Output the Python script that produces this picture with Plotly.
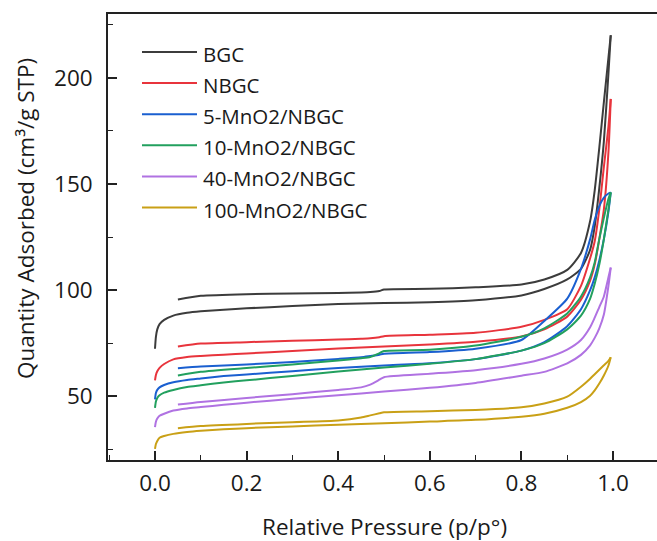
import plotly.graph_objects as go

# Relative pressure grids (adsorption: increasing, desorption: decreasing)
P_ADS = [0.0, 0.002, 0.005, 0.01, 0.02, 0.04, 0.07, 0.1, 0.15, 0.2, 0.3, 0.4, 0.5,
         0.6, 0.7, 0.8, 0.85, 0.9, 0.93, 0.95, 0.96, 0.97, 0.98, 0.99, 0.995]
P_DES = [0.995, 0.99, 0.98, 0.97, 0.96, 0.95, 0.93, 0.9, 0.85, 0.8, 0.7, 0.6, 0.5,
         0.49, 0.47, 0.45, 0.4, 0.3, 0.2, 0.1, 0.05]

SAMPLES = ["BGC", "NBGC", "5-MnO2/NBGC", "10-MnO2/NBGC", "40-MnO2/NBGC", "100-MnO2/NBGC"]

BGC_ADS = [72.4, 78, 81.5, 84, 86, 88, 89.3, 90, 90.8, 91.4, 92.5, 93.5, 93.9,
           94.3, 95.2, 97.5, 100.5, 105, 110, 119, 130, 148, 170, 202, 220]
BGC_DES = [220, 209.5, 188.5, 167, 147, 132.5, 117.5, 109.5, 105, 102.6, 101.3, 100.6, 100.3,
           99.6, 99.1, 98.9, 98.6, 98.4, 98.1, 97.3, 95.6]

NBGC_ADS = [57.5, 60, 61.8, 63.4, 65.2, 67.4, 68.5, 69, 69.6, 70.2, 71.3, 72.5, 73.4,
            74.4, 75.7, 78.2, 81.5, 87.5, 95.5, 104.5, 112, 124, 138, 165, 190]
NBGC_DES = [190, 177, 158, 138, 123, 115, 102, 91, 86, 82.7, 79.9, 79, 78.3,
            77.8, 77.3, 77.1, 76.7, 76.1, 75.5, 74.8, 73.4]

MN5_ADS = [48.5, 51.5, 53, 54.2, 55.3, 56.6, 57.7, 58.4, 59.5, 60.3, 61.8, 63.3, 64.5,
           65.6, 67.5, 71.5, 75.5, 83, 91, 100, 106, 114, 124, 137, 146]
MN5_DES = [146, 145.5, 143.5, 139.5, 133, 124, 110, 96, 85.5, 76.5, 72.4, 70.8, 70,
           69.6, 69, 68.4, 67.6, 66.2, 65, 64, 63.2]

MN10_ADS = [44.5, 47.5, 49.2, 50.5, 51.7, 53, 54.4, 55.2, 56.5, 57.5, 59.6, 61.7, 63.5,
            65.3, 67.5, 71.5, 75, 81.5, 88, 96, 103, 112, 124, 138, 146]
MN10_DES = [146, 143, 134, 124, 113, 106, 97, 89, 82, 78, 73.9, 71.9, 71.3,
            70.3, 68.5, 67.9, 66.8, 65, 63.3, 61.5, 59.8]

MN40_ADS = [35.5, 38, 39.5, 40.8, 41.8, 43.3, 44.3, 44.9, 46, 47, 48.8, 50.5, 52.2,
            54, 56.3, 59.7, 61.5, 65.5, 69.5, 74, 77.5, 82, 88.5, 102, 110.6]
MN40_DES = [110.6, 106, 97, 92, 87, 82.5, 76.5, 72, 67.8, 65.3, 62.3, 60.6, 59,
            57.8, 55.5, 54.2, 53, 51, 49.2, 47.3, 46.1]

MN100_ADS = [25.2, 27.5, 29, 30.5, 31.3, 32.3, 33.2, 33.8, 34.5, 35, 35.8, 36.6, 37.3,
             38.1, 38.9, 40.4, 41.8, 44.6, 47.3, 50.3, 52.8, 56, 59.8, 64.5, 68.4]
MN100_DES = [68.4, 66.7, 64.6, 62.5, 60.4, 58.3, 54.5, 49.8, 46.6, 44.8, 43.6, 43, 42.5,
             42, 41, 40, 38.6, 37.8, 37, 36, 35]

ADS = [BGC_ADS, NBGC_ADS, MN5_ADS, MN10_ADS, MN40_ADS, MN100_ADS]
DES = [BGC_DES, NBGC_DES, MN5_DES, MN10_DES, MN40_DES, MN100_DES]
COLORS = ["#3c3c3c", "#e8343c", "#1a5fd0", "#22a05e", "#b072e2", "#c9a016"]

X_TICKS = [0.0, 0.2, 0.4, 0.6, 0.8, 1.0]
Y_TICKS = [50, 100, 150, 200]

FONT = "Open Sans"
TXT = "#1a1a1a"

fig = go.Figure()
for name, a, d, c in zip(SAMPLES, ADS, DES, COLORS):
    for xs, ys in ((P_ADS, a), (P_DES, d)):
        fig.add_trace(go.Scatter(
            x=xs, y=ys, mode="lines", name=name,
            line=dict(color=c, width=2, shape="spline", smoothing=0.6),
            showlegend=False))

# manual legend (long line samples like the original)
L, T, B, W = 108, 14, 81, 657
H = 541
pw, ph = W - L, H - T - B
def px_x(px):
    return (px - L) / pw
def px_y(py):
    return (H - B - py) / ph

for i, (name, c) in enumerate(zip(SAMPLES, COLORS)):
    yl = 52 + 31.1 * i
    fig.add_shape(type="line", xref="paper", yref="paper",
                  x0=px_x(142), x1=px_x(197), y0=px_y(yl), y1=px_y(yl),
                  line=dict(color=c, width=2))
    fig.add_annotation(xref="paper", yref="paper", x=px_x(201), y=px_y(yl + 2),
                       text=name, showarrow=False, xanchor="left", yanchor="middle",
                       font=dict(family=FONT, size=20.5, color=TXT))

fig.add_annotation(xref="paper", yref="paper", x=px_x(384), y=px_y(526),
                   text="Relative Pressure (p/p°)", showarrow=False,
                   xanchor="center", yanchor="middle",
                   font=dict(family=FONT, size=22.5, color=TXT))
fig.add_annotation(xref="paper", yref="paper", x=px_x(25), y=px_y(219),
                   text="Quantity Adsorbed (cm³/g STP)", showarrow=False, textangle=-90,
                   xanchor="center", yanchor="middle",
                   font=dict(family=FONT, size=22.5, color=TXT))

axis_common = dict(showgrid=False, zeroline=False, showline=True, linecolor="#222",
                   linewidth=1.6, ticks="inside", tickcolor="#222", tickwidth=1.6,
                   ticklen=9, tickfont=dict(family=FONT, size=22.5, color=TXT))
fig.update_xaxes(range=[-0.1026, 1.096], tickvals=X_TICKS,
                 ticktext=[f"{v:.1f}" for v in X_TICKS], mirror=True,
                 minor=dict(ticks="inside", dtick=0.1, tick0=0, ticklen=5,
                            tickwidth=1.4, tickcolor="#222"),
                 ticklabelstandoff=2, **axis_common)
fig.update_yaxes(range=[20, 230], tickvals=Y_TICKS, mirror=False,
                 minor=dict(ticks="inside", dtick=25, tick0=0, ticklen=5,
                            tickwidth=1.4, tickcolor="#222"),
                 ticklabelstandoff=9, **axis_common)

fig.update_layout(width=W, height=H, margin=dict(l=L, r=0, t=T, b=B),
                  plot_bgcolor="white", paper_bgcolor="white", showlegend=False)
fig.write_html("out.html")
